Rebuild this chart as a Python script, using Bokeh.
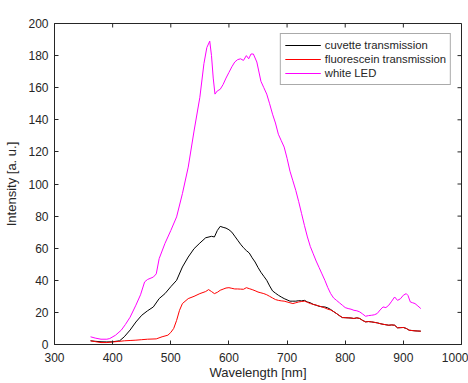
import math
from bokeh.plotting import figure
from bokeh.models import Range1d, Legend, LegendItem, FixedTicker
from bokeh.embed import file_html
from bokeh.resources import INLINE

# ---- data ----
led_wl = [362, 370, 380, 390, 395, 405, 415, 422, 430, 440, 448, 455, 460, 470, 475, 480, 490, 500, 510,
          520, 530, 540, 550, 557, 562, 567, 570, 573, 576, 580, 585, 590, 595, 600, 605, 610, 615, 620,
          625, 630, 634, 638, 642, 648, 655, 660, 665, 670, 675, 680, 685, 690, 695, 700, 705, 710, 715,
          720, 725, 730, 735, 740, 745, 750, 755, 760, 765, 770, 775, 780, 785, 790, 795, 800, 805, 810,
          815, 820, 825, 830, 835, 840, 845, 850, 855, 860, 865, 870, 875, 880, 885, 890, 895, 900, 905,
          908, 912, 916, 920, 925, 930]
led_int = [4.8, 4.0, 3.3, 3.3, 3.7, 5.8, 9.0, 12.5, 17.0, 24.5, 31.0, 39.0, 40.5, 42.0, 44.0, 53.5, 63.0,
           71.0, 79.5, 94.0, 110.5, 133.0, 154.0, 175.0, 185.0, 189.0, 180.0, 166.0, 156.0, 158.0, 159.0,
           162.0, 166.0, 169.5, 173.0, 176.0, 177.5, 178.0, 177.0, 180.0, 178.0, 181.0, 181.0, 176.0, 164.0,
           160.0, 156.0, 150.0, 143.5, 138.0, 131.0, 127.0, 123.0, 116.0, 108.0, 102.0, 96.0, 89.0, 81.5,
           74.0, 67.0, 61.0, 56.5, 52.0, 48.0, 44.0, 40.0, 35.5, 31.7, 29.0, 27.5, 26.0, 24.5, 23.0, 22.4,
           22.0, 21.3, 21.0, 20.3, 19.0, 17.6, 18.0, 18.2, 18.5, 19.3, 21.5, 23.4, 23.0, 24.5, 27.0, 29.6,
           27.5, 28.5, 30.7, 31.7, 30.5, 26.5, 26.0, 25.5, 24.0, 22.4]

cuv_wl = [362, 370, 380, 390, 400, 412, 420, 430, 440, 450, 460, 470, 480, 490, 500, 510, 520, 530, 540,
          550, 560, 570, 575, 580, 585, 590, 595, 600, 605, 610, 615, 620, 625, 630, 635, 640, 645, 650,
          655, 660, 665, 670, 675, 680, 685, 690, 695, 700, 705, 710, 715, 720, 725, 730, 735, 740, 745,
          750, 755, 760, 765, 770, 775, 780, 785, 790, 795, 800, 805, 810, 815, 820, 825, 830, 835, 840,
          845, 850, 855, 860, 865, 870, 875, 880, 885, 890, 895, 900, 905, 910, 915, 920, 925, 930]
cuv_int = [2.3, 2.0, 1.7, 1.6, 1.7, 2.3, 4.8, 9.0, 14.0, 18.2, 21.0, 23.4, 28.6, 31.7, 36.0, 40.0, 48.3,
           54.5, 59.7, 63.2, 66.5, 67.4, 67.0, 71.0, 73.6, 73.0, 72.5, 71.5, 70.0, 67.5, 65.0, 62.5, 60.3,
           58.5, 57.0, 54.0, 51.4, 48.0, 45.0, 42.5, 40.0, 36.5, 33.4, 32.0, 30.7, 29.6, 28.6, 27.8, 27.0,
           27.0, 27.0, 27.3, 27.2, 27.5, 26.5, 26.0, 25.0, 24.5, 23.8, 23.5, 23.4, 22.8, 21.8, 20.5, 19.3,
           18.0, 16.8, 16.7, 16.6, 16.5, 16.2, 16.6, 16.2, 15.0, 14.1, 14.3, 14.1, 13.8, 13.5, 13.0, 12.6,
           12.3, 12.0, 12.2, 12.0, 10.4, 10.5, 10.6, 10.0, 8.9, 8.7, 8.5, 8.4, 8.3]

flu_wl = [362, 370, 380, 390, 400, 410, 420, 430, 440, 450, 460, 475, 485, 495, 500, 505, 510, 515, 520,
          530, 540, 550, 560, 565, 570, 575, 580, 585, 590, 595, 600, 605, 610, 615, 620, 625, 630, 635,
          640, 645, 650, 655, 660, 665, 670, 675, 680, 685, 690, 695, 700, 705, 710, 715, 720, 725, 730,
          735, 740, 745, 750, 755, 760, 765, 770, 775, 780, 785, 790, 795, 800, 805, 810, 815, 820, 825,
          830, 835, 840, 845, 850, 855, 860, 865, 870, 875, 880, 885, 890, 895, 900, 905, 910, 915, 920,
          925, 930]
flu_int = [2.3, 1.8, 1.2, 1.2, 1.6, 1.9, 2.3, 2.5, 2.7, 3.0, 3.3, 3.5, 4.8, 5.8, 7.5, 10.0, 15.0, 21.3,
           25.5, 28.6, 30.0, 31.7, 33.0, 34.2, 33.0, 31.7, 32.5, 33.8, 34.5, 35.2, 35.4, 35.0, 34.6, 34.6,
           34.5, 34.4, 35.4, 34.8, 34.2, 33.5, 32.7, 32.2, 31.7, 31.0, 30.0, 29.0, 28.0, 27.5, 27.2, 27.0,
           26.5, 26.0, 25.5, 26.0, 26.5, 26.8, 27.0, 26.3, 25.5, 25.0, 24.5, 24.0, 23.4, 22.8, 22.0, 21.5,
           20.5, 19.3, 18.0, 16.8, 16.7, 16.6, 16.5, 16.2, 16.6, 16.2, 15.0, 14.1, 14.3, 14.1, 13.8, 13.5,
           13.0, 12.6, 12.3, 12.0, 12.2, 12.0, 10.4, 10.5, 10.6, 10.0, 8.9, 8.7, 8.5, 8.4, 8.3]

x_ticks = [300, 400, 500, 600, 700, 800, 900, 1000]
y_ticks = [0, 20, 40, 60, 80, 100, 120, 140, 160, 180, 200]
series_names = ["cuvette transmission", "fluorescein transmission", "white LED"]

FONT = "Liberation Sans"
TXT = "#262626"

p = figure(width=468, height=383, output_backend="svg", toolbar_location=None,
           x_range=Range1d(300, 1000), y_range=Range1d(0, 200),
           min_border_left=54, min_border_right=7, min_border_top=23, min_border_bottom=39)
p.outline_line_color = TXT
p.outline_line_width = 1
p.grid.visible = False
p.background_fill_color = "white"
p.border_fill_color = "white"

r_cuv = p.line(cuv_wl, cuv_int, line_color="black", line_width=1)
r_flu = p.line(flu_wl, flu_int, line_color="#ff0000", line_width=1)
r_led = p.line(led_wl, led_int, line_color="#ff00ff", line_width=1)

# inward tick marks on the top and right edges of the box
x_max = p.x_range.end
y_max = p.y_range.end
p.ray(x=x_ticks, y=[y_max] * len(x_ticks), length=4, length_units="screen",
      angle=-math.pi / 2, line_color=TXT, line_width=1)
p.ray(x=[x_max] * len(y_ticks), y=y_ticks, length=4, length_units="screen",
      angle=math.pi, line_color=TXT, line_width=1)


def style(ax, ticks):
    ax.ticker = FixedTicker(ticks=ticks)
    ax.axis_line_color = TXT
    ax.axis_line_width = 1
    ax.major_tick_line_color = TXT
    ax.major_tick_in = 4
    ax.major_tick_out = 0
    ax.minor_tick_line_color = None
    ax.major_label_text_font = FONT
    ax.major_label_text_color = TXT
    ax.major_label_text_font_size = "12px"
    ax.axis_label_text_font = FONT
    ax.axis_label_text_color = TXT
    ax.axis_label_text_font_size = "13px"
    ax.axis_label_text_font_style = "normal"


style(p.xaxis[0], x_ticks)
style(p.yaxis[0], y_ticks)
p.xaxis[0].axis_label = "Wavelength [nm]"
p.yaxis[0].axis_label = "Intensity [a. u.]"
p.xaxis[0].major_label_standoff = 8
p.yaxis[0].major_label_standoff = 6
p.xaxis[0].axis_label_standoff = 0
p.yaxis[0].axis_label_standoff = 6

legend = Legend(items=[LegendItem(label=series_names[0], renderers=[r_cuv]),
                       LegendItem(label=series_names[1], renderers=[r_flu]),
                       LegendItem(label=series_names[2], renderers=[r_led])],
                location="top_right", margin=10, padding=4, spacing=0,
                glyph_width=36, glyph_height=14, label_height=14, label_standoff=4,
                label_text_font=FONT, label_text_font_size="11.3px", label_text_color=TXT,
                border_line_color="#555555", border_line_width=1.5,
                background_fill_color="white", background_fill_alpha=1)
p.add_layout(legend, "center")

open("out.html", "w").write(file_html(p, INLINE))
